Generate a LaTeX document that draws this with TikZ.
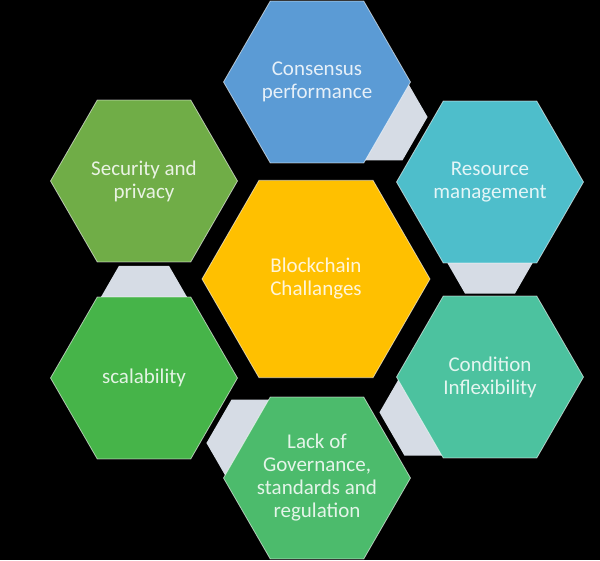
\documentclass[tikz,border=0pt]{standalone}
\usepackage{fontspec}
\setmainfont{Carlito}
\usetikzlibrary{shapes.geometric,calc}
\definecolor{cblue}{HTML}{5B9BD5}
\definecolor{cteal}{HTML}{4EBECB}
\definecolor{csea}{HTML}{4CC29F}
\definecolor{cgreen}{HTML}{4CBB6C}
\definecolor{cgrass}{HTML}{46B449}
\definecolor{colive}{HTML}{70AD47}
\definecolor{cgold}{HTML}{FFC000}
\definecolor{clink}{HTML}{D6DCE5}
\tikzset{
  hex/.style={regular polygon,regular polygon sides=6,minimum size=187pt,inner sep=0pt,
    draw=white,draw opacity=0.6,line width=0.8pt},
  hub/.style={hex,minimum size=228pt},
  link/.style={regular polygon,regular polygon sides=6,minimum size=100pt,inner sep=0pt,fill=clink},
  txt/.style={text=white,text opacity=0.85,align=center,font=\fontsize{21}{23}\selectfont},
}

\begin{document}
\begin{tikzpicture}[x=1pt,y=-1pt]
  \fill[black] (0,0) rectangle (600,560);
  % centres of the six outer cells
  \coordinate (p-cons) at (317,82);
  \coordinate (p-res)  at (490,182);
  \coordinate (p-cond) at (490,377);
  \coordinate (p-lack) at (317,478);
  \coordinate (p-scal) at (144,378);
  \coordinate (p-sec)  at (144,181);
  % small links, behind the cells
  \node[link] (l1) at ($(p-cons)!0.35!(p-res)$) {};
  \node[link] (l2) at ($(p-res)!0.35!(p-cond)$) {};
  \node[link] (l3) at ($(p-cond)!0.35!(p-lack)$) {};
  \node[link] (l4) at ($(p-lack)!0.35!(p-scal)$) {};
  \node[link] (l5) at ($(p-scal)!0.35!(p-sec)$) {};
  % cells
  \node[hub,fill=cgold] (hub) at (316,279) [label={[txt]center:Blockchain\\Challanges}] {};
  \node[hex,fill=cblue] (cons) at (p-cons) [label={[txt]center:Consensus\\performance}] {};
  \node[hex,fill=cteal] (res) at (p-res) [label={[txt]center:Resource\\management}] {};
  \node[hex,fill=csea] (cond) at (p-cond) [label={[txt]center:Condition\\Inflexibility}] {};
  \node[hex,fill=cgreen] (lack) at (p-lack)
    [label={[txt]center:Lack of\\Governance,\\standards and\\regulation}] {};
  \node[hex,fill=cgrass] (scal) at (p-scal) [label={[txt]center:scalability}] {};
  \node[hex,fill=colive] (sec) at (p-sec) [label={[txt]center:Security and\\privacy}] {};
\end{tikzpicture}
\end{document}
